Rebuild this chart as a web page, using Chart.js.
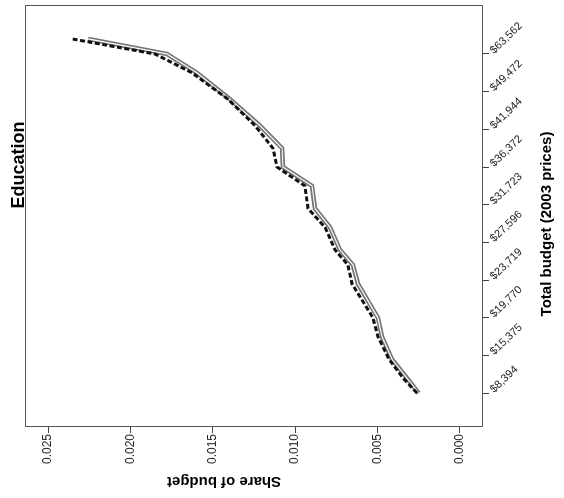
<!DOCTYPE html>
<html>
<head>
<meta charset="utf-8">
<script src="https://cdn.jsdelivr.net/npm/chart.js@4.4.1/dist/chart.umd.min.js"></script>
<style>
  html, body { margin: 0; padding: 0; background: #fff; overflow: hidden; }
  #wrap { position: absolute; left: 0; top: 0; width: 498px; height: 564px;
          transform-origin: 0 0; transform: translateY(498px) rotate(-90deg); }
  canvas { display: block; }
</style>
</head>
<body>
<div id="wrap"><canvas id="c" width="498" height="564"></canvas></div>
<script>
// ---- data (budget rank index along the curve) ----
const SAMPLE_INDEX = [0, 4, 9, 15, 20, 29, 34, 38, 44, 49, 55, 60, 65, 71, 78, 85, 90, 94];
const SHARE_SOLID  = [0.00250, 0.00322, 0.00413, 0.00473, 0.00498, 0.00619, 0.00649, 0.00728, 0.00789,
                      0.00880, 0.00898, 0.01074, 0.01080, 0.01214, 0.01396, 0.01596, 0.01778, 0.02257];
const SHARE_DASHED = [0.00260, 0.00346, 0.00431, 0.00498, 0.00528, 0.00655, 0.00680, 0.00758, 0.00819,
                      0.00922, 0.00941, 0.01110, 0.01135, 0.01244, 0.01408, 0.01626, 0.01851, 0.02354];
const CATEGORY_TICK_INDEX = [0, 10, 20, 30, 40, 50, 60, 70, 80, 90];
const CATEGORY_LABELS = ['$8,394', '$15,375', '$19,770', '$23,719', '$27,596',
                         '$31,723', '$36,372', '$41,944', '$49,472', '$63,562'];
const SHARE_TICKS = [0, 0.005, 0.010, 0.015, 0.020, 0.025];
const TITLE = 'Education';
const X_TITLE = 'Total budget (2003 prices)';
const Y_TITLE = 'Share of budget';

const FONT = '"Liberation Sans", Arial, Helvetica, sans-serif';
const pts = arr => SAMPLE_INDEX.map((x, i) => ({ x, y: arr[i] }));

const framePlugin = {
  id: 'frameAndText',
  beforeDatasetsDraw(chart) {
    const { ctx, chartArea: a } = chart;
    ctx.save();
    ctx.strokeStyle = '#555';
    ctx.lineWidth = 1;
    ctx.strokeRect(Math.round(a.left) + 0.5, Math.round(a.top) + 0.5,
                   Math.round(a.right - a.left) - 1, Math.round(a.bottom - a.top) - 1);
    ctx.restore();
  },
  afterDraw(chart) {
    const { ctx, chartArea: a, scales } = chart;
    const x = scales.x;
    ctx.save();
    // category labels, slanted
    ctx.fillStyle = '#222';
    ctx.font = '11px ' + FONT;
    ctx.textAlign = 'left';
    ctx.textBaseline = 'middle';
    CATEGORY_TICK_INDEX.forEach((v, k) => {
      const px = x.getPixelForValue(v);
      ctx.save();
      ctx.translate(px + 2, a.bottom + 9);
      ctx.rotate(46 * Math.PI / 180);
      ctx.fillText(CATEGORY_LABELS[k], 0, 0);
      ctx.restore();
    });
    // chart title
    ctx.fillStyle = '#000';
    ctx.font = 'bold 18px ' + FONT;
    ctx.textAlign = 'center';
    ctx.textBaseline = 'alphabetic';
    ctx.fillText(TITLE, 333, 23.5);
    // x axis title
    ctx.font = 'bold 15px ' + FONT;
    ctx.fillText(X_TITLE, 274, 551);
    // y axis title
    ctx.save();
    ctx.translate(21, 224);
    ctx.rotate(-Math.PI / 2);
    ctx.font = 'bold 15px ' + FONT;
    ctx.fillText(Y_TITLE, 0, 0);
    ctx.restore();
    ctx.restore();
  }
};

new Chart(document.getElementById('c'), {
  type: 'line',
  data: {
    datasets: [
      { label: 'dashed', data: pts(SHARE_DASHED), borderColor: '#111', borderWidth: 3,
        borderDash: [5, 2.5], borderCapStyle: 'butt', pointRadius: 0, tension: 0, fill: false },
      { label: 'solid-inner', data: pts(SHARE_SOLID), borderColor: '#fff', borderWidth: 1.2,
        pointRadius: 0, tension: 0, fill: false },
      { label: 'solid', data: pts(SHARE_SOLID), borderColor: '#777', borderWidth: 4.5,
        pointRadius: 0, tension: 0, fill: false }
    ]
  },
  options: {
    responsive: false,
    animation: false,
    devicePixelRatio: 1,
    layout: { padding: { top: 25, right: 5, left: 0, bottom: 0 } },
    plugins: { legend: { display: false }, title: { display: false }, tooltip: { enabled: false } },
    scales: {
      x: {
        type: 'linear', position: 'bottom', min: -9, max: 103,
        afterBuildTicks: s => { s.ticks = CATEGORY_TICK_INDEX.map(v => ({ value: v })); },
        afterFit: s => { s.height = 81; },
        ticks: { display: false },
        grid: { display: true, drawOnChartArea: false, drawTicks: true, tickLength: 6, color: '#444' },
        border: { display: false }
      },
      y: {
        type: 'linear', position: 'left', min: -0.0014, max: 0.0264,
        afterBuildTicks: s => { s.ticks = SHARE_TICKS.map(v => ({ value: v })); },
        afterFit: s => { s.width = 71; },
        ticks: { color: '#222', padding: 1, font: { size: 12, family: FONT },
                 callback: v => Number(v).toFixed(3) },
        grid: { display: true, drawOnChartArea: false, drawTicks: true, tickLength: 6, color: '#444' },
        border: { display: false }
      }
    }
  },
  plugins: [framePlugin]
});
</script>
</body>
</html>
